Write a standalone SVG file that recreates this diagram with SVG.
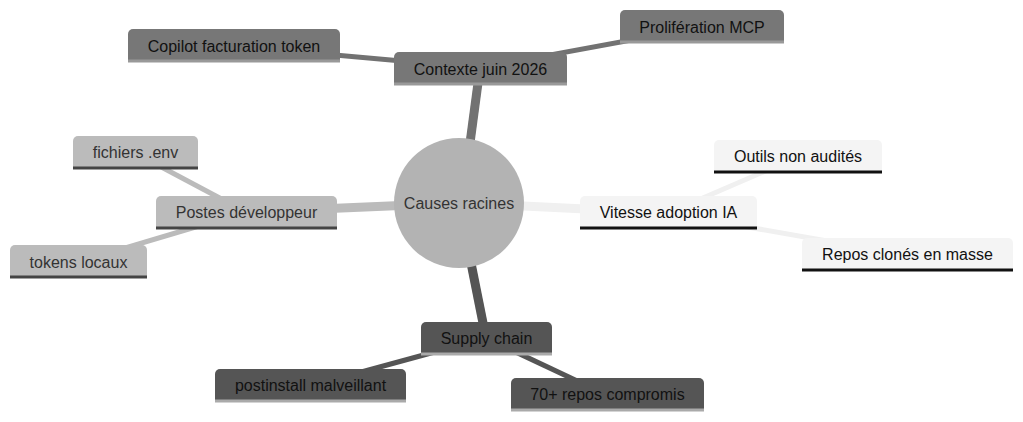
<svg xmlns="http://www.w3.org/2000/svg" width="1023" height="422" viewBox="0 0 1023 422">
<style>
text{font-family:"Liberation Sans",Arial,sans-serif;font-size:16px;text-anchor:middle}
.e{fill:none;stroke-linecap:butt}
.d1{stroke-width:9}
.d2{stroke-width:5}
.s0 .b{fill:#777777}.s0 .u{stroke:#999999}.s0 text{fill:#111111}.e0{stroke:#727272}
.s1 .b{fill:#bbbbbb}.s1 .u{stroke:#444444}.s1 text{fill:#333333}.e1{stroke:#bbbbbb}
.s2 .b{fill:#f4f4f4}.s2 .u{stroke:#111111}.s2 text{fill:#111111}.e2{stroke:#f0f0f0}
.s3 .b{fill:#555555}.s3 .u{stroke:#aaaaaa}.s3 text{fill:#111111}.e3{stroke:#555555}
.u{stroke-width:3}
</style>
<g id="connectors">
<line class="e e0 d1" x1="462" y1="203" x2="480" y2="68"/>
<line class="e e0 d2" x1="480" y1="68" x2="234" y2="46"/>
<line class="e e0 d2" x1="480" y1="68" x2="702" y2="27"/>
<line class="e e1 d1" x1="459" y1="203" x2="246" y2="212"/>
<line class="e e1 d2" x1="246" y1="212" x2="135" y2="153"/>
<line class="e e1 d2" x1="246" y1="212" x2="78" y2="262"/>
<line class="e e2 d1" x1="459" y1="203" x2="668" y2="213"/>
<line class="e e2 d2" x1="668" y1="213" x2="798" y2="157"/>
<line class="e e2 d2" x1="668" y1="213" x2="907" y2="255"/>
<line class="e e3 d1" x1="459" y1="203" x2="486" y2="338"/>
<line class="e e3 d2" x1="486" y1="338" x2="310" y2="386"/>
<line class="e e3 d2" x1="486" y1="338" x2="607" y2="395"/>
</g>
<g id="root">
<circle cx="459" cy="203" r="65" fill="#b3b3b3"/>
<text x="459" y="209" fill="#333333">Causes racines</text>
</g>
<g id="contexte" class="s0">
<path class="b" d="M394 57a5 5 0 0 1 5-5h163a5 5 0 0 1 5 5v28h-173z"/>
<line class="u" x1="394" y1="84" x2="567" y2="84"/>
<text x="480.5" y="75">Contexte juin 2026</text>
</g>
<g id="copilot" class="s0">
<path class="b" d="M128 34a5 5 0 0 1 5-5h202a5 5 0 0 1 5 5v28h-212z"/>
<line class="u" x1="128" y1="61" x2="340" y2="61"/>
<text x="234" y="52">Copilot facturation token</text>
</g>
<g id="proliferation" class="s0">
<path class="b" d="M620 15a5 5 0 0 1 5-5h154a5 5 0 0 1 5 5v28h-164z"/>
<line class="u" x1="620" y1="42" x2="784" y2="42"/>
<text x="702" y="33">Prolifération MCP</text>
</g>
<g id="postes" class="s1">
<path class="b" d="M156 201a5 5 0 0 1 5-5h171a5 5 0 0 1 5 5v28h-181z"/>
<line class="u" x1="156" y1="228" x2="337" y2="228"/>
<text x="246.5" y="218">Postes développeur</text>
</g>
<g id="fichiers" class="s1">
<path class="b" d="M73 141a5 5 0 0 1 5-5h115a5 5 0 0 1 5 5v28h-125z"/>
<line class="u" x1="73" y1="168" x2="198" y2="168"/>
<text x="135.5" y="158">fichiers .env</text>
</g>
<g id="tokens" class="s1">
<path class="b" d="M10 250a5 5 0 0 1 5-5h127a5 5 0 0 1 5 5v28h-137z"/>
<line class="u" x1="10" y1="277" x2="147" y2="277"/>
<text x="78.5" y="268">tokens locaux</text>
</g>
<g id="vitesse" class="s2">
<path class="b" d="M580 201a5 5 0 0 1 5-5h167a5 5 0 0 1 5 5v28h-177z"/>
<line class="u" x1="580" y1="228" x2="757" y2="228"/>
<text x="668.5" y="218">Vitesse adoption IA</text>
</g>
<g id="outils" class="s2">
<path class="b" d="M714 145a5 5 0 0 1 5-5h158a5 5 0 0 1 5 5v28h-168z"/>
<line class="u" x1="714" y1="172" x2="882" y2="172"/>
<text x="798" y="162">Outils non audités</text>
</g>
<g id="repos" class="s2">
<path class="b" d="M802 243a5 5 0 0 1 5-5h201a5 5 0 0 1 5 5v28h-211z"/>
<line class="u" x1="802" y1="270" x2="1013" y2="270"/>
<text x="907.5" y="260">Repos clonés en masse</text>
</g>
<g id="supply" class="s3">
<path class="b" d="M421 327a5 5 0 0 1 5-5h121a5 5 0 0 1 5 5v28h-131z"/>
<line class="u" x1="421" y1="354" x2="552" y2="354"/>
<text x="486.5" y="344">Supply chain</text>
</g>
<g id="postinstall" class="s3">
<path class="b" d="M215 374a5 5 0 0 1 5-5h181a5 5 0 0 1 5 5v28h-191z"/>
<line class="u" x1="215" y1="401" x2="406" y2="401"/>
<text x="310.5" y="391">postinstall malveillant</text>
</g>
<g id="repos70" class="s3">
<path class="b" d="M511 383a5 5 0 0 1 5-5h183a5 5 0 0 1 5 5v28h-193z"/>
<line class="u" x1="511" y1="410" x2="704" y2="410"/>
<text x="607.5" y="400">70+ repos compromis</text>
</g>
</svg>
